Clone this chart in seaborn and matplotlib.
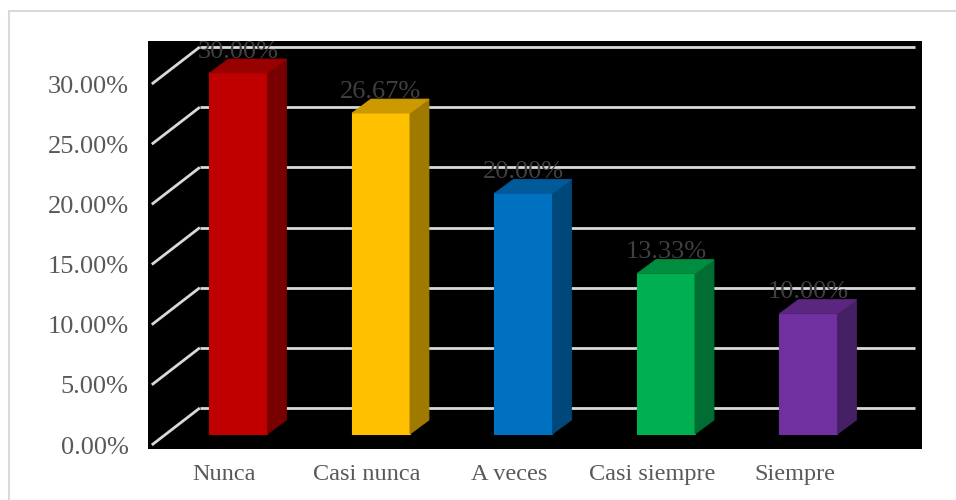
import matplotlib
matplotlib.use("Agg")
import matplotlib.pyplot as plt
import matplotlib.transforms as mtrans
from matplotlib.patches import Polygon
from matplotlib.ticker import FuncFormatter
import seaborn as sns
import pandas as pd

# ---- data ----
categories = ["Nunca", "Casi nunca", "A veces", "Casi siempre", "Siempre"]
values = [30.00, 26.67, 20.00, 13.33, 10.00]
y_ticks = [0, 5, 10, 15, 20, 25, 30]

front_colors = ["#C00000", "#FFC000", "#0070C0", "#00B050", "#7030A0"]
top_colors = ["#990000", "#CC9A00", "#005A9A", "#008D40", "#5A2680"]
side_colors = ["#780000", "#A07900", "#00477A", "#006E32", "#462064"]

sns.set_style("white")
plt.rcParams["font.family"] = ["Liberation Serif", "DejaVu Serif"]

DPI = 100
fig = plt.figure(figsize=(9.56, 5.0), dpi=DPI)
ax = fig.add_axes([148 / 956, 51 / 500, 774 / 956, 408 / 500])
ax.set_facecolor("black")

df = pd.DataFrame({"cat": categories, "val": values})
sns.barplot(data=df, x="cat", y="val", hue="cat", palette=front_colors,
            saturation=1, width=0.407, legend=False, ax=ax, zorder=3,
            linewidth=0.8, edgecolor=None)

ax.set_xlim(-0.635, -0.635 + 774 / 142.5)
ax.set_ylim(-15 / 12.033, (434 - 41) / 12.033)
for s in ax.spines.values():
    s.set_visible(False)
ax.set_xlabel("")
ax.set_ylabel("")

fig.canvas.draw()


def px(dx, dy):
    return mtrans.ScaledTranslation(dx / DPI, dy / DPI, fig.dpi_scale_trans)


# depth offsets (pixels)
bar_dx, bar_dy = 19, 14
front_dx, front_dy = -14, -11
back_dx, back_dy = 34, 26

p0 = ax.transData.transform((0, 0))
p1 = ax.transData.transform((1, 1))
sx, sy = p1[0] - p0[0], p1[1] - p0[1]
ddx, ddy = bar_dx / sx, bar_dy / sy

# walls / gridlines
xl, xr = -0.51, 4.51
grid_kw = dict(color="#D9D9D9", lw=2.0, zorder=1, solid_capstyle="butt")
for v in y_ticks:
    ax.plot([xl + back_dx / sx, xr + back_dx / sx],
            [v + back_dy / sy, v + back_dy / sy], **grid_kw)
    ax.plot([xl + front_dx / sx, xl + back_dx / sx],
            [v + front_dy / sy, v + back_dy / sy], **grid_kw)

# 3D faces for bars
for i, patch in enumerate(ax.patches):
    x0 = patch.get_x()
    w = patch.get_width()
    h = patch.get_height()
    x1 = x0 + w
    patch.set_edgecolor(front_colors[i])
    side = Polygon([(x1, 0), (x1 + ddx, ddy), (x1 + ddx, h + ddy), (x1, h)],
                   closed=True, facecolor=side_colors[i],
                   edgecolor=side_colors[i], lw=0.6, zorder=3)
    top = Polygon([(x0, h), (x0 + ddx, h + ddy), (x1 + ddx, h + ddy), (x1, h)],
                  closed=True, facecolor=top_colors[i],
                  edgecolor=top_colors[i], lw=0.6, zorder=3)
    ax.add_patch(side)
    ax.add_patch(top)

# data labels
for c, v in zip(ax.containers, values):
    labs = ax.bar_label(c, labels=[f"{v:.2f}%"], padding=7.5,
                        color="#404040", fontsize=19)
    for t in labs:
        t.set_zorder(6)

# y ticks on the front wall
ax.set_yticks(y_ticks)
ax.yaxis.set_major_formatter(FuncFormatter(lambda v, p: f"{v:.2f}%"))
ax.tick_params(axis="y", length=0, pad=14, labelsize=19, labelcolor="#595959")
for lab in ax.get_yticklabels():
    lab.set_transform(lab.get_transform() + px(0, front_dy))

# category labels
ax.tick_params(axis="x", length=0, pad=10.5, labelsize=17.5, labelcolor="#595959")
for lab in ax.get_xticklabels():
    lab.set_transform(lab.get_transform() + px(front_dx, 0))

# outer chart border
fig.add_artist(plt.Line2D([9 / 956, 9 / 956], [0, 1 - 11 / 500],
                          transform=fig.transFigure, color="#D9D9D9", lw=1.5))
fig.add_artist(plt.Line2D([9 / 956, 1], [1 - 11 / 500, 1 - 11 / 500],
                          transform=fig.transFigure, color="#D9D9D9", lw=1.5))

fig.savefig("out.png", dpi=DPI, facecolor="white")
